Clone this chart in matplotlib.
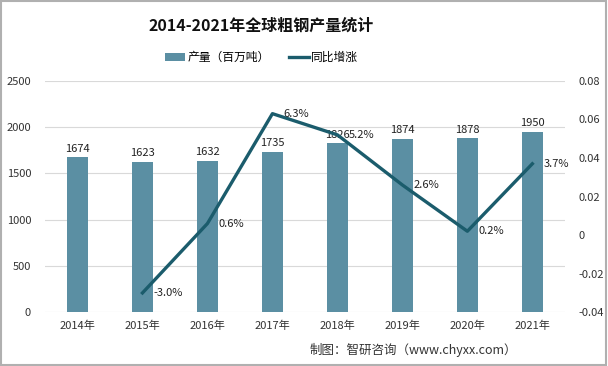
import matplotlib
matplotlib.use("Agg")
import matplotlib.pyplot as plt
from matplotlib.patches import Rectangle

plt.rcParams['font.family'] = ['Noto Sans CJK SC', 'DejaVu Sans']

years = ["2014年", "2015年", "2016年", "2017年", "2018年", "2019年", "2020年", "2021年"]
output = [1674, 1623, 1632, 1735, 1826, 1874, 1878, 1950]
growth_idx = [1, 2, 3, 4, 5, 6, 7]
growth = [-0.030, 0.006, 0.063, 0.052, 0.026, 0.002, 0.037]
growth_labels = ["-3.0%", "0.6%", "6.3%", "5.2%", "2.6%", "0.2%", "3.7%"]

bar_color = "#5b8fa3"
line_color = "#1b5c6c"

fig = plt.figure(figsize=(6.08, 3.66), dpi=100)
ax = fig.add_axes([0.074, 0.147, 0.855, 0.632])
x = list(range(len(years)))

ax.bar(x, output, width=0.32, color=bar_color, zorder=2, label="产量（百万吨）")
for xi, v in zip(x, output):
    ax.text(xi, v + 40, str(v), ha="center", va="bottom", fontsize=8, color="#222222", zorder=5)

ax.set_ylim(0, 2500)
ax.set_yticks([0, 500, 1000, 1500, 2000, 2500])
ax.set_xlim(-0.5, len(years) - 0.5)
ax.set_xticks(x)
ax.set_xticklabels(years)
ax.grid(axis="y", color="#d9d9d9", linewidth=0.8, zorder=0)
for s in ax.spines.values():
    s.set_visible(False)
ax.tick_params(length=0, labelsize=8, colors="#333333")
ax.tick_params(axis="x", pad=6)
ax.tick_params(axis="y", pad=10)

ax2 = ax.twinx()
ax2.plot(growth_idx, growth, color=line_color, linewidth=2.4, zorder=3, label="同比增涨")
for xi, v, lab in zip(growth_idx, growth, growth_labels):
    ax2.text(xi + 0.17, v, lab, ha="left", va="center", fontsize=8, color="#222222", zorder=5)
ax2.set_ylim(-0.04, 0.08)
ax2.set_yticks([-0.04, -0.02, 0, 0.02, 0.04, 0.06, 0.08])
ax2.set_yticklabels(["-0.04", "-0.02", "0", "0.02", "0.04", "0.06", "0.08"])
for s in ax2.spines.values():
    s.set_visible(False)
ax2.tick_params(length=0, labelsize=8, colors="#333333", pad=10)

fig.text(0.43, 0.93, "2014-2021年全球粗钢产量统计", ha="center", va="center",
         fontsize=11.5, fontweight="bold", color="#111111")

h1, l1 = ax.get_legend_handles_labels()
h2, l2 = ax2.get_legend_handles_labels()
fig.legend(h1 + h2, l1 + l2, loc="center", bbox_to_anchor=(0.43, 0.843), ncol=2,
           frameon=False, fontsize=8.5, handlelength=1.7, handleheight=0.6,
           columnspacing=1.6, handletextpad=0.2)

fig.text(0.85, 0.043, "制图：智研咨询（www.chyxx.com）", ha="right", va="center",
         fontsize=9, color="#333333")

fig.patches.append(Rectangle((0.002, 0.003), 0.995, 0.994, transform=fig.transFigure,
                             fill=False, edgecolor="#b0b0b0", linewidth=1.5))

fig.savefig("out.png", dpi=100)
plt.close(fig)
